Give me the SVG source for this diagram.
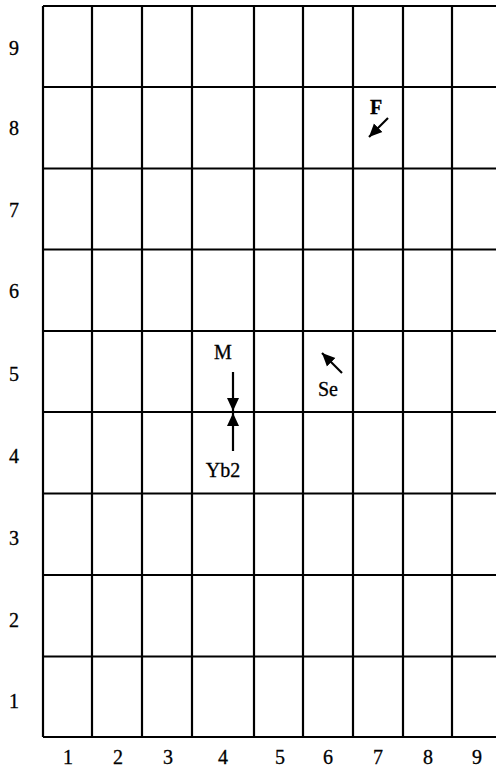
<svg xmlns="http://www.w3.org/2000/svg" width="496" height="768" viewBox="0 0 496 768">
<style>
.g{stroke:#000;stroke-width:2.2;fill:none}
.ax{font-family:"Liberation Serif","DejaVu Serif",serif;font-size:20px;fill:#000;stroke:#000;stroke-width:0.3;text-anchor:middle}
.lb{font-family:"Liberation Serif","DejaVu Serif",serif;font-size:20px;fill:#000;stroke:#000;stroke-width:0.3;text-anchor:middle}
.ar{stroke:#000;stroke-width:2.2;fill:none}
</style>
<defs>
<marker id="ah" markerUnits="userSpaceOnUse" markerWidth="14" markerHeight="14" viewBox="0 0 14 14" refX="13" refY="7" orient="auto">
<path d="M0,1 L13,7 L0,13 Z" fill="#000"/>
</marker>
</defs>
<rect width="496" height="768" fill="#fff"/>
<g id="grid" class="g">
<path d="M43,6H496M43,87H496M43,168.5H496M43,249.5H496M43,331H496M43,412H496M43,493.5H496M43,575H496M43,656.5H496M43,737H496"/>
<path d="M43,6V737M92,6V737M142,6V737M192,6V737M254,6V737M303,6V737M353,6V737M403,6V737M452,6V737"/>
</g>
<g id="row-labels" class="ax">
<text x="14" y="55">9</text>
<text x="14" y="135">8</text>
<text x="14" y="217">7</text>
<text x="14" y="298">6</text>
<text x="14" y="381">5</text>
<text x="14" y="463">4</text>
<text x="14" y="545">3</text>
<text x="14" y="627">2</text>
<text x="14" y="708">1</text>
</g>
<g id="col-labels" class="ax">
<text x="68" y="764">1</text>
<text x="118" y="764">2</text>
<text x="168" y="764">3</text>
<text x="223" y="764">4</text>
<text x="280" y="764">5</text>
<text x="328" y="764">6</text>
<text x="378" y="764">7</text>
<text x="428" y="764">8</text>
<text x="477" y="764">9</text>
</g>
<g id="node-F"><text class="lb" x="376" y="114" font-weight="bold">F</text></g>
<g id="node-M"><text class="lb" x="223" y="359">M</text></g>
<g id="node-Se"><text class="lb" x="328" y="396">Se</text></g>
<g id="node-Yb2"><text class="lb" x="223" y="477">Yb2</text></g>
<g id="connectors" class="ar">
<line x1="388" y1="118" x2="369" y2="137" marker-end="url(#ah)"/>
<line x1="233" y1="372" x2="233" y2="411" marker-end="url(#ah)"/>
<line x1="233" y1="451" x2="233" y2="413" marker-end="url(#ah)"/>
<line x1="342" y1="373" x2="322" y2="353" marker-end="url(#ah)"/>
</g>
</svg>
